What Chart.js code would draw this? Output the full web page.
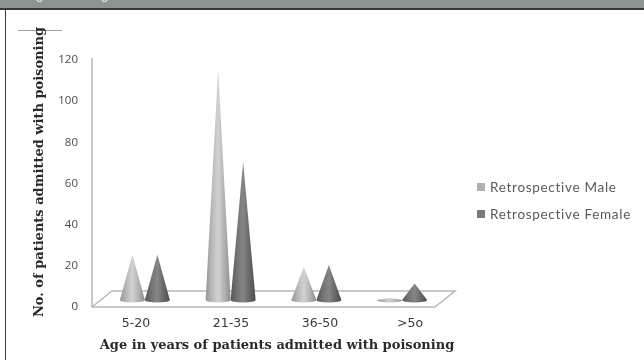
<!DOCTYPE html>
<html>
<head>
<meta charset="utf-8">
<script src="https://cdn.jsdelivr.net/npm/chart.js@4"></script>
<style>
  html, body { margin: 0; padding: 0; background: #fff; overflow: hidden; }
  #wrap { position: relative; width: 644px; height: 360px; }
  #head { position: absolute; left: 0; top: 0; width: 644px; height: 8px; background: #8f9392; border-bottom: 2px solid #3a3a3a; }
  #frame { position: absolute; left: 5px; top: 9px; width: 639px; height: 351px; border-left: 1.5px solid #3a3a3a; }
  .cut { position: absolute; top: -5px; width: 5px; height: 5px; border: 1.5px solid #fff; border-radius: 50%; }
  canvas { position: absolute; left: 0; top: 0; }
  #legend { position: absolute; left: 477px; top: 173px; font: 13.5px Lato, sans-serif; color: #5a5a5a; letter-spacing: 0.7px; }
  #legend div { display: flex; align-items: center; gap: 5px; height: 27px; white-space: nowrap; }
  #legend i { display: block; width: 8px; height: 8px; }
</style>
</head>
<body>
<div id="wrap">
  <div id="head"><span class="cut" style="left:36px"></span><span class="cut" style="left:101px"></span></div>
  <div id="frame"></div>
  <canvas id="chart" width="644" height="360"></canvas>
  <div id="legend"></div>
</div>
<script>
const ageGroups = ['5-20', '21-35', '36-50', '>5o'];
const maleValues = [22, 112, 16, 1];
const femaleValues = [22, 67, 17, 8];
const yTicks = [0, 20, 40, 60, 80, 100, 120];
// where the hand placed age labels sit along the floor, in x2 axis units
const ageLabelPositions = [44, 139, 228, 318];
const seriesNames = ['Retrospective Male', 'Retrospective Female'];
const seriesColors = ['#b0b0b0', '#7a7a7a'];

const floorLift = 7;   // cones stand on the floor, not on the axis line
const floorDepth = 20;
const floorRise = 16;

const maleStops = ['#969696', '#b8b8b8', '#d2d2d2', '#b2b2b2', '#8c8c8c'];
const femaleStops = ['#565656', '#727272', '#868686', '#686868', '#4c4c4c'];

function coneGradient(ctx, left, right, stops) {
  const g = ctx.createLinearGradient(left, 0, right, 0);
  stops.forEach((c, i) => g.addColorStop(i / (stops.length - 1), c));
  return g;
}

// draws the 3d floor and the y axis line behind the marks
const floorPlugin = {
  id: 'floor',
  beforeDatasetsDraw(chart) {
    const { ctx, chartArea: a } = chart;
    ctx.save();
    ctx.strokeStyle = '#b8b8b8';
    ctx.lineWidth = 1.5;
    ctx.beginPath();
    ctx.moveTo(a.left, a.top - 2);
    ctx.lineTo(a.left, a.bottom);
    ctx.lineTo(a.right, a.bottom);
    ctx.lineTo(a.right + floorDepth, a.bottom - floorRise);
    ctx.lineTo(a.left + floorDepth, a.bottom - floorRise);
    ctx.lineTo(a.left, a.bottom);
    ctx.stroke();
    ctx.restore();
  }
};

// turns each bar element into a shaded cone
const conePlugin = {
  id: 'cones',
  afterDatasetsDraw(chart) {
    const { ctx } = chart;
    chart.data.datasets.forEach((ds, di) => {
      const stops = di === 0 ? maleStops : femaleStops;
      chart.getDatasetMeta(di).data.forEach(bar => {
        const cx = bar.x + 10;
        const half = bar.width / 2;
        const base = bar.base - floorLift;
        const tip = bar.y - floorLift;
        ctx.save();
        ctx.filter = 'blur(0.6px)';
        ctx.fillStyle = coneGradient(ctx, cx - half, cx + half, stops);
        ctx.beginPath();
        ctx.moveTo(cx, tip);
        ctx.lineTo(cx + half, base);
        ctx.ellipse(cx, base, half, 2.5, 0, 0, Math.PI);
        ctx.closePath();
        ctx.fill();
        ctx.restore();
      });
    });
  }
};

// axis titles sit off the plot centre in the source, so they are placed here
// the y one has a short rule behind its end
const titlesPlugin = {
  id: 'titles',
  afterDraw(chart) {
    const { ctx } = chart;
    ctx.save();
    ctx.strokeStyle = '#a0a0a0';
    ctx.lineWidth = 1;
    ctx.beginPath();
    ctx.moveTo(18, 30.5);
    ctx.lineTo(62, 30.5);
    ctx.stroke();
    ctx.fillStyle = '#2a2a2a';
    ctx.textAlign = 'center';
    ctx.textBaseline = 'middle';
    ctx.font = 'bold 13px "DejaVu Serif"';
    ctx.fillText('Age in years of patients admitted with poisoning', 277, 346);
    ctx.translate(40, 172);
    ctx.rotate(-Math.PI / 2);
    ctx.fillText('No. of patients admitted with poisoning', 0, 0);
    ctx.restore();
  }
};

new Chart(document.getElementById('chart'), {
  type: 'bar',
  data: {
    labels: ageGroups,
    datasets: [
      { label: seriesNames[0], data: maleValues, backgroundColor: 'transparent', borderWidth: 0 },
      { label: seriesNames[1], data: femaleValues, backgroundColor: 'transparent', borderWidth: 0 }
    ]
  },
  options: {
    responsive: false,
    animation: false,
    layout: { padding: { left: 0, right: 209, top: 60, bottom: 0 } },
    datasets: { bar: { categoryPercentage: 0.583, barPercentage: 1 } },
    plugins: {
      legend: { display: false },
      tooltip: { enabled: false }
    },
    scales: {
      x: {
        display: false,
        grid: { display: false }
      },
      x2: {
        type: 'linear',
        position: 'bottom',
        offset: false,
        min: 0,
        max: 343,
        grid: { display: false },
        border: { display: false },
        afterBuildTicks(axis) { axis.ticks = ageLabelPositions.map(v => ({ value: v })); },
        afterFit(axis) { axis.height = 53; },
        ticks: {
          autoSkip: false,
          maxRotation: 0,
          padding: 1,
          color: '#3a3a3a',
          font: { family: 'DejaVu Sans', size: 12.5 },
          callback: (v) => ageGroups[ageLabelPositions.indexOf(v)]
        }
      },
      y: {
        min: 0,
        max: 120,
        grid: { display: false },
        border: { display: false },
        afterBuildTicks(axis) { axis.ticks = yTicks.map(v => ({ value: v })); },
        afterFit(axis) { axis.width = 92; },
        ticks: {
          padding: 6,
          color: '#4a4a4a',
          font: { family: 'Open Sans', size: 11.5 }
        }
      }
    }
  },
  plugins: [floorPlugin, conePlugin, titlesPlugin]
});

document.getElementById('legend').innerHTML = seriesNames.map((name, i) =>
  `<div><i style="background:${seriesColors[i]}"></i><span>${name}</span></div>`
).join('');
</script>
</body>
</html>
